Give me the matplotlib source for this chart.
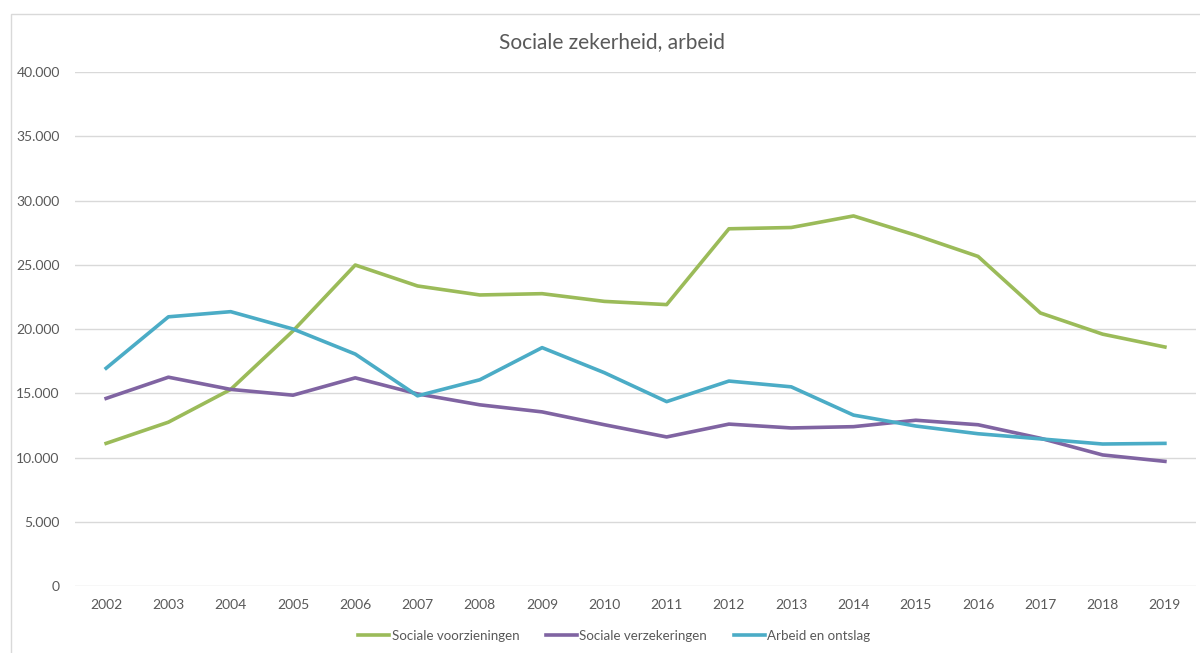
import matplotlib.pyplot as plt
import matplotlib.ticker as mticker
from matplotlib.patches import Rectangle

plt.rcParams['font.family'] = ['Lato', 'DejaVu Sans']

years = [str(y) for y in range(2002, 2020)]

## values (x1000)
voorzieningen = [11100, 12750, 15300, 19850, 24980, 23350, 22650, 22750, 22150, 21900,
                 27800, 27900, 28800, 27300, 25650, 21250, 19600, 18600]
verzekeringen = [14600, 16250, 15300, 14850, 16200, 14950, 14100, 13550, 12550, 11600,
                 12600, 12300, 12400, 12900, 12550, 11500, 10200, 9700]
arbeid = [16950, 20950, 21350, 20000, 18050, 14800, 16050, 18550, 16600, 14350,
          15950, 15500, 13300, 12450, 11850, 11450, 11050, 11100]

series = {
    'Sociale voorzieningen': (voorzieningen, '#9BBB59'),
    'Sociale verzekeringen': (verzekeringen, '#8064A2'),
    'Arbeid en ontslag': (arbeid, '#4BACC6'),
}

txt = '#595959'

fig = plt.figure(figsize=(12, 6.53), dpi=100)
ax = fig.add_axes([0.0625, 0.1026, 0.9342, 0.7871])

x = list(range(len(years)))
for name, (vals, col) in series.items():
    ax.plot(x, vals, color=col, lw=2.6, label=name, solid_joinstyle='round')

ax.set_xlim(-0.5, len(years) - 0.5)
ax.set_ylim(0, 40000)
ax.set_yticks(range(0, 40001, 5000))
ax.yaxis.set_major_formatter(mticker.FuncFormatter(
    lambda v, p: '0' if v == 0 else f'{int(v):,}'.replace(',', '.')))
ax.set_xticks(x)
ax.set_xticklabels(years)
ax.grid(axis='y', color='#d9d9d9', lw=1)
ax.set_axisbelow(True)
for s in ax.spines.values():
    s.set_visible(False)
ax.tick_params(length=0, colors=txt, labelsize=10)
ax.tick_params(axis='y', pad=11)
ax.tick_params(axis='x', pad=9)

fig.text(0.51, 0.935, 'Sociale zekerheid, arbeid', ha='center', va='center',
         fontsize=15, color=txt)

leg = fig.legend(loc='center', bbox_to_anchor=(0.512, 0.026), ncol=3, frameon=False,
                 fontsize=9.6, handlelength=2.3, handletextpad=0.2, columnspacing=2.0)
for t in leg.get_texts():
    t.set_color(txt)

# chart border
fig.patches.append(Rectangle((11 / 1200, -0.1), 2, 1 - 14 / 653 + 0.1,
                             transform=fig.transFigure, fill=False,
                             edgecolor='#d9d9d9', lw=1))

fig.savefig('out.png', dpi=100)
